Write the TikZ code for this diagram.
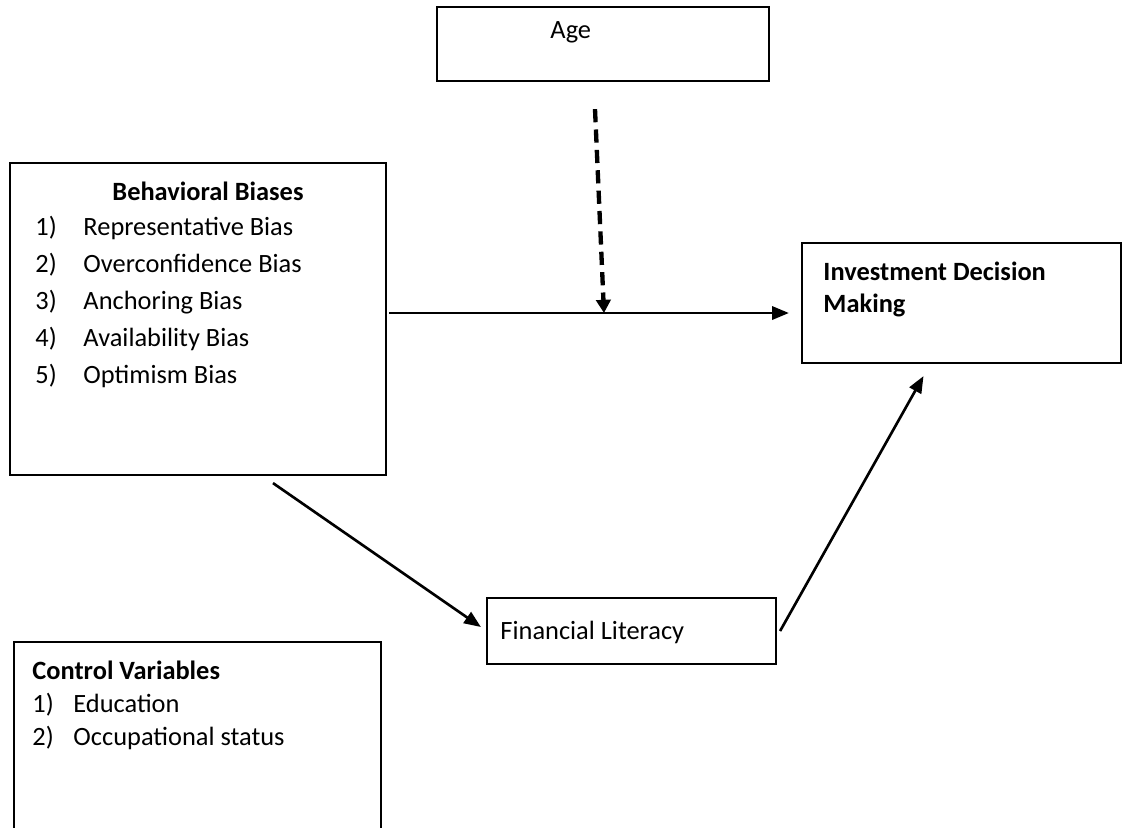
\documentclass[tikz,border=0pt]{standalone}
\usepackage{fontspec}
\setmainfont{Carlito}
\usetikzlibrary{arrows.meta}
\newlength\pxu
\setlength\pxu{0.4167pt}

\begin{document}
\begin{tikzpicture}[x=\pxu,y=-\pxu,font=\fontsize{11pt}{13pt}\selectfont,
  box/.style={draw,line width=0.9pt,inner sep=0pt},
  txt/.style={inner sep=0pt,anchor=base west},
  arr/.style={line width=1.1pt,-{Triangle[length=7pt,width=5.5pt]}},
  dasharr/.style={line width=1.8pt,dash pattern=on 5.5pt off 3pt,-{Triangle[length=5.5pt,width=6pt]}}]
\useasboundingbox (0,0) rectangle (1123,827);
\clip (0,0) rectangle (1123,827);

% boxes
\node[box,minimum width=332\pxu,minimum height=74\pxu] (age) at (603,44) {};
\node[box,minimum width=376\pxu,minimum height=312\pxu] (bb) at (198,319) {};
\node[box,minimum width=319\pxu,minimum height=120\pxu] (idm) at (961.5,303) {};
\node[box,minimum width=289\pxu,minimum height=66\pxu] (fl) at (631.5,631) {};
\node[box,minimum width=367\pxu,minimum height=208\pxu] (cv) at (197.5,746) {};

% texts
\node[txt] (agetxt) at (550,38) {Age};
\node[txt] (bbtitle) at (112,200) {\textbf{Behavioral Biases}};
\foreach \n/\t [count=\i] in {1)/Representative Bias,2)/Overconfidence Bias,3)/Anchoring Bias,4)/Availability Bias,5)/Optimism Bias}{
  \node[txt] (bbnum\i) at (35,198+37*\i) {\n};
  \node[txt] (bbitem\i) at (83,198+37*\i) {\t};
}
\node[txt] (idmtxt1) at (823,280) {\textbf{Investment Decision}};
\node[txt] (idmtxt2) at (823,312) {\textbf{Making}};
\node[txt] (fltxt) at (500,639) {Financial Literacy};
\node[txt] (cvtitle) at (32,679) {\textbf{Control Variables}};
\node[txt] (cvnum1) at (32,712) {1)};
\node[txt] (cvitem1) at (73,712) {Education};
\node[txt] (cvnum2) at (32,745) {2)};
\node[txt] (cvitem2) at (73,745) {Occupational status};

% connectors
\coordinate (joint) at (604,313);
\draw[arr] ([shift={(2,0)}]bb.east |- joint) -- ([shift={(-12,0)}]idm.west |- joint);
\draw[dasharr] ([shift={(-8,27)}]age.south) -- (joint);
\draw[arr] ([shift={(75,7)}]bb.south) -- ([shift={(-5,-4)}]fl.west);
\draw[arr] ([shift={(3,0)}]fl.east) -- ([shift={(-38,12)}]idm.south);
\end{tikzpicture}
\end{document}
